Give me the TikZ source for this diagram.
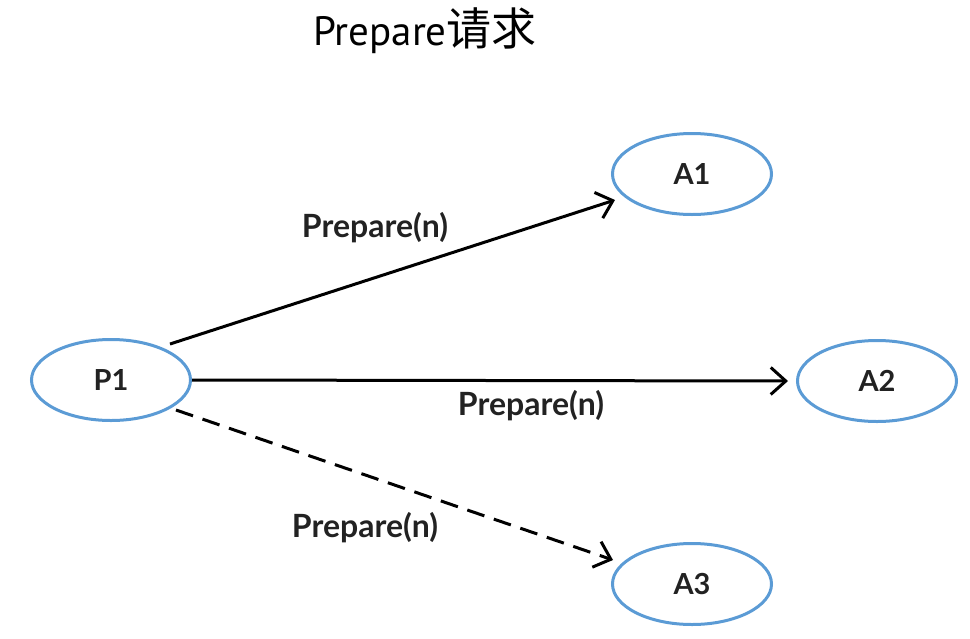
\documentclass[tikz,border=0pt]{standalone}
\usepackage{fontspec}
\setmainfont{Lato}
\newfontfamily\latob{Lato Bold}
\newfontfamily\titlelat{PT Sans}
\newfontfamily\cjk{Noto Sans CJK SC}
\usetikzlibrary{arrows.meta,calc,shapes.geometric}
\definecolor{ellblue}{HTML}{5B9BD5}
\definecolor{txt}{HTML}{222222}
\begin{document}
\begin{tikzpicture}[x=1pt,y=-1pt,
  agent/.style={draw=ellblue,line width=3pt,ellipse,minimum width=159pt,minimum height=81pt,inner sep=0pt,
    font=\latob\fontsize{29}{32}\selectfont,text=txt},
  msg/.style={draw=black,line width=3pt,-{Straight Barb[length=15pt,width=27pt]}},
  lbl/.style={font=\latob\fontsize{32}{35}\selectfont,text=txt,inner sep=0pt}]
\useasboundingbox (0,0) rectangle (970,638);
\node[anchor=base,inner sep=0pt] (title) at (425,45) {\titlelat\fontsize{41}{46}\selectfont Prepare\cjk\fontsize{45}{46}\selectfont 请求};
\node[agent] (P1) at (111,380) {P1};
\node[agent] (A1) at (692,174) {A1};
\node[agent] (A2) at (877,381) {A2};
\node[agent] (A3) at (692,584) {A3};
\draw[msg] ($(P1)+(59,-36)$) -- ($(A1)+(-77,26)$);
\draw[msg] (P1.east) -- ($(A2.west)+(-8,0)$);
\draw[msg,dash pattern=on 18pt off 10pt] ($(P1)+(65,30)$) -- ($(A3)+(-79,-24)$);
\node[lbl] (l1) at (375,228) {Prepare(n)};
\node[lbl] (l2) at (531,406) {Prepare(n)};
\node[lbl] (l3) at (365,528) {Prepare(n)};
\end{tikzpicture}
\end{document}
